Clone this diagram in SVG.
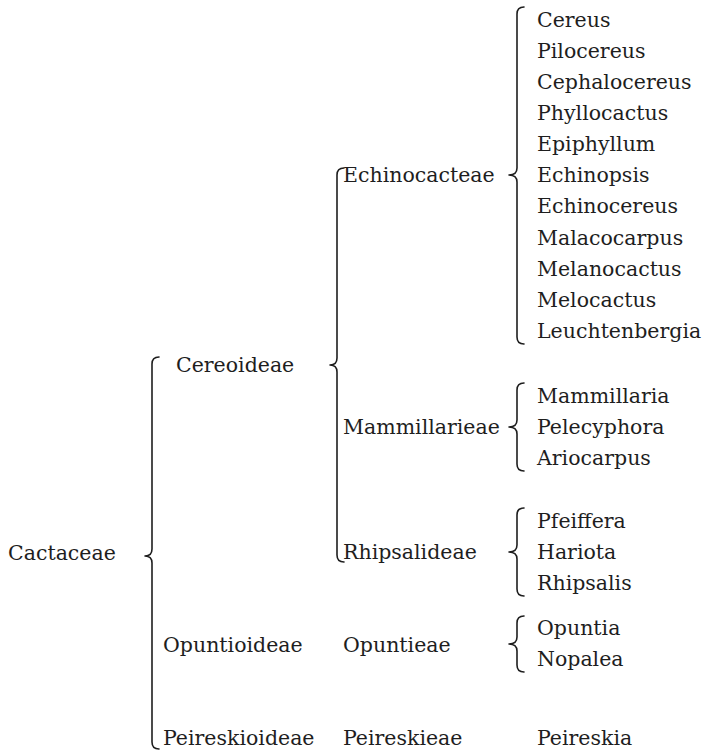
<svg xmlns="http://www.w3.org/2000/svg" width="705" height="751" viewBox="0 0 705 751">
<style>
text{font-family:"DejaVu Serif","Liberation Serif",serif;font-size:20.5px;fill:#1e1e1e}
.b{fill:none;stroke:#1e1e1e;stroke-width:1.6;stroke-linecap:round;stroke-linejoin:round}
</style>
<rect width="705" height="751" fill="#fff"/>
<g id="connectors">
<path class="b" d="M159,357 Q152,357 152,364 L152,549 Q152,556 145,556 Q152,556 152,563 L152,742 Q152,749 159,749"/>
<path class="b" d="M344,168 Q337,168 337,175 L337,358 Q337,365 330,365 Q337,365 337,372 L337,555 Q337,562 344,562"/>
<path class="b" d="M524,7 Q517,7 517,14 L517,168 Q517,175 509,175 Q517,175 517,182 L517,337 Q517,344 524,344"/>
<path class="b" d="M524,383 Q517,383 517,390 L517,420 Q517,427 509,427 Q517,427 517,434 L517,464 Q517,471 524,471"/>
<path class="b" d="M524,508 Q517,508 517,515 L517,545 Q517,552 509,552 Q517,552 517,559 L517,589 Q517,596 524,596"/>
<path class="b" d="M524,616 Q517,616 517,623 L517,637 Q517,644 509,644 Q517,644 517,651 L517,665 Q517,672 524,672"/>
</g>
<g id="cactaceae"><text x="8" y="560">Cactaceae</text></g>
<g id="cereoideae"><text x="176" y="372">Cereoideae</text></g>
<g id="opuntioideae"><text x="163" y="652">Opuntioideae</text></g>
<g id="peireskioideae"><text x="163" y="745">Peireskioideae</text></g>
<g id="echinocacteae"><text x="343" y="182">Echinocacteae</text></g>
<g id="mammillarieae"><text x="343" y="434">Mammillarieae</text></g>
<g id="rhipsalideae"><text x="343" y="559">Rhipsalideae</text></g>
<g id="opuntieae"><text x="343" y="652">Opuntieae</text></g>
<g id="peireskieae"><text x="343" y="745">Peireskieae</text></g>
<g id="cereus"><text x="537" y="27">Cereus</text></g>
<g id="pilocereus"><text x="537" y="58">Pilocereus</text></g>
<g id="cephalocereus"><text x="537" y="89">Cephalocereus</text></g>
<g id="phyllocactus"><text x="537" y="120">Phyllocactus</text></g>
<g id="epiphyllum"><text x="537" y="151">Epiphyllum</text></g>
<g id="echinopsis"><text x="537" y="182">Echinopsis</text></g>
<g id="echinocereus"><text x="537" y="213">Echinocereus</text></g>
<g id="malacocarpus"><text x="537" y="245">Malacocarpus</text></g>
<g id="melanocactus"><text x="537" y="276">Melanocactus</text></g>
<g id="melocactus"><text x="537" y="307">Melocactus</text></g>
<g id="leuchtenbergia"><text x="537" y="338">Leuchtenbergia</text></g>
<g id="mammillaria"><text x="537" y="403">Mammillaria</text></g>
<g id="pelecyphora"><text x="537" y="434">Pelecyphora</text></g>
<g id="ariocarpus"><text x="537" y="465">Ariocarpus</text></g>
<g id="pfeiffera"><text x="537" y="528">Pfeiffera</text></g>
<g id="hariota"><text x="537" y="559">Hariota</text></g>
<g id="rhipsalis"><text x="537" y="590">Rhipsalis</text></g>
<g id="opuntia"><text x="537" y="635">Opuntia</text></g>
<g id="nopalea"><text x="537" y="666">Nopalea</text></g>
<g id="peireskia"><text x="537" y="745">Peireskia</text></g>
</svg>
